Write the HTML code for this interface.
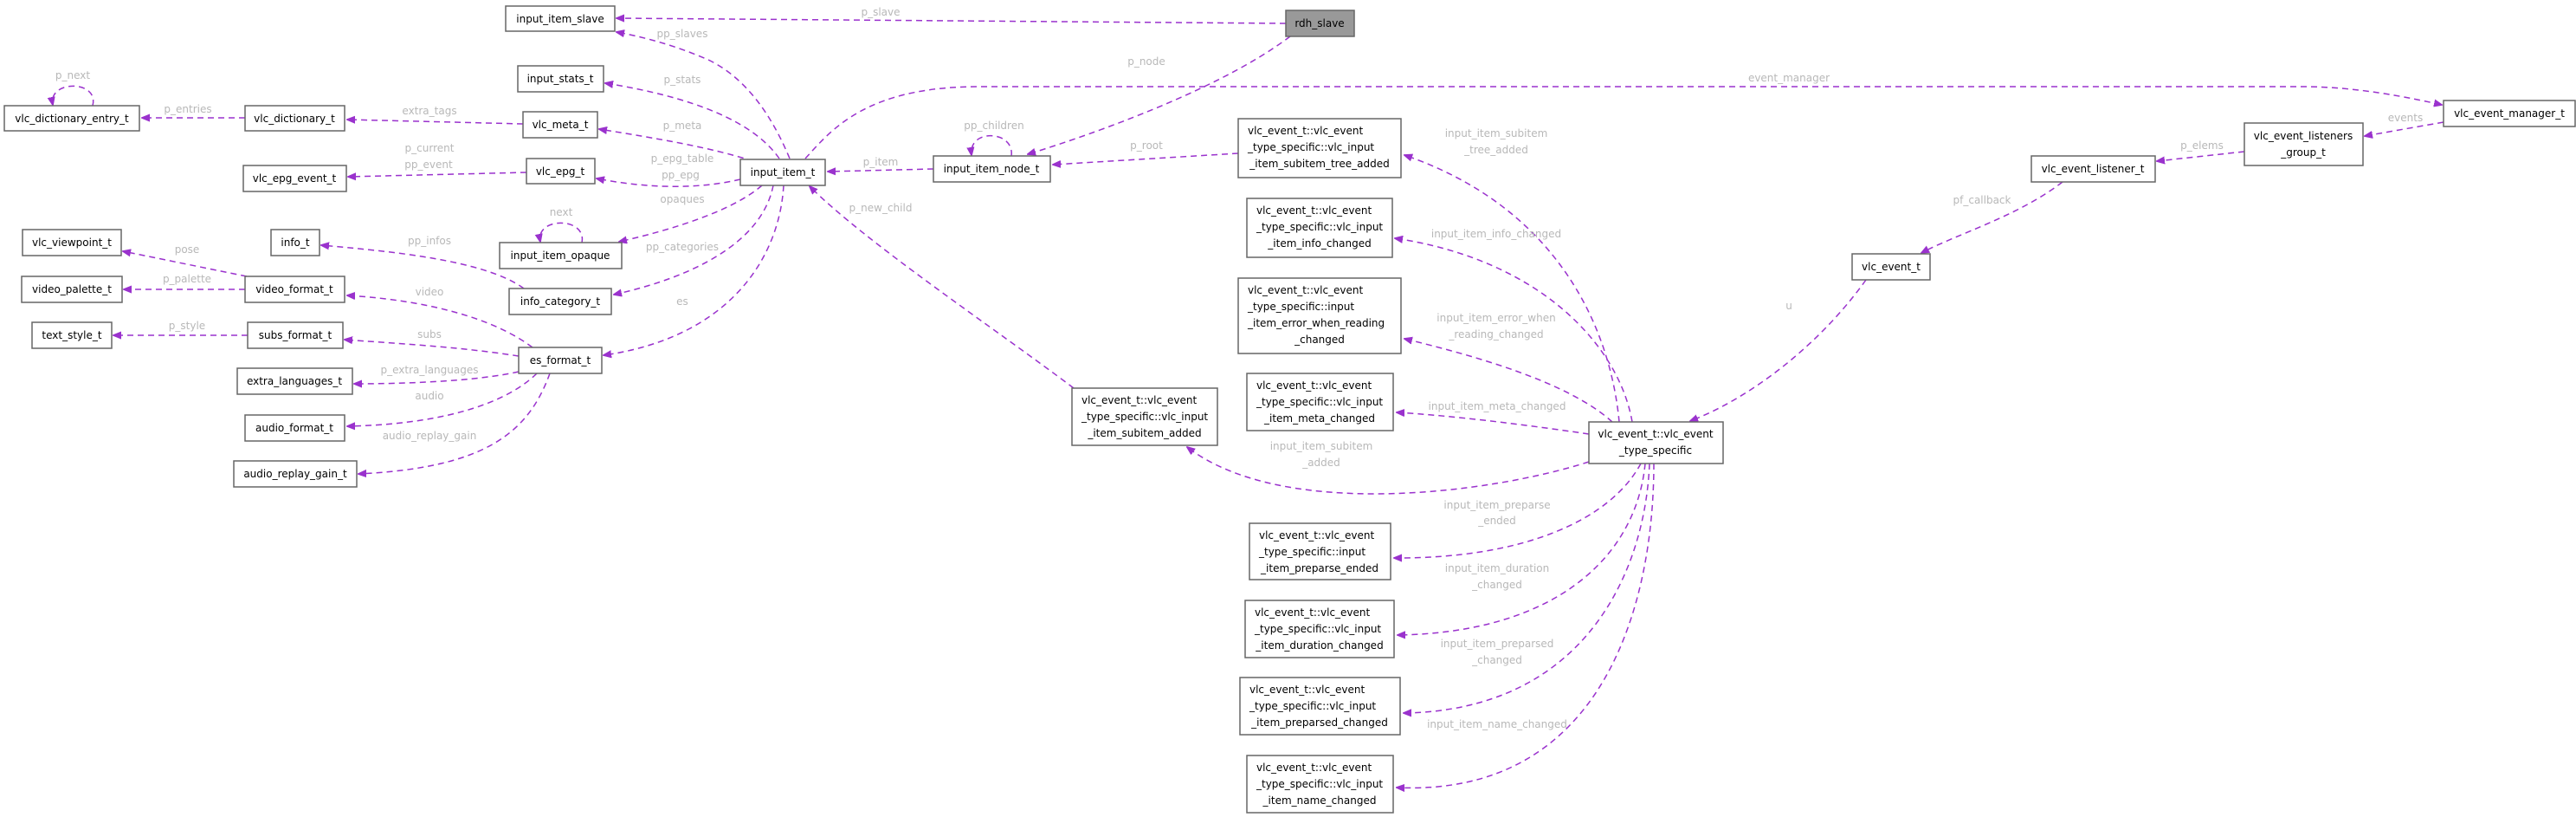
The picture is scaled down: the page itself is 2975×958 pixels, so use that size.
<!DOCTYPE html>
<html><head><meta charset="utf-8"><style>
html,body{margin:0;padding:0;background:#fff;}
svg{display:block}
.n{fill:#fff;stroke:#666;stroke-width:1.5}
.t{font-family:"DejaVu Sans","Liberation Sans",sans-serif;font-size:12px;fill:#000}
.l{font-family:"DejaVu Sans","Liberation Sans",sans-serif;font-size:12px;fill:#b8b8b8;text-anchor:middle}
.e{fill:none;stroke:#9a32cd;stroke-width:1.5;stroke-dasharray:7,5;marker-end:url(#a)}
</style></head><body>
<svg width="2975" height="958" viewBox="0 0 2975 958" xmlns="http://www.w3.org/2000/svg">
<defs><marker id="a" markerWidth="10" markerHeight="10" refX="9" refY="5" orient="auto" markerUnits="userSpaceOnUse" viewBox="0 0 10 10"><path d="M0,1 L10,5 L0,9 z" fill="#9a32cd" stroke="#9a32cd"/></marker></defs>

<!-- edges -->
<path class="e" d="M1485,27 L712,21"/>
<path class="e" d="M1490,42 C1400,110 1230,165 1187,178"/>
<path class="e" d="M912,183 C890,130 860,90 820,70 C780,52 740,42 712,37"/>
<path class="e" d="M900,183 C870,140 800,112 699,96"/>
<path class="e" d="M870,186 C820,170 760,160 692,149"/>
<path class="e" d="M855,207 C800,220 740,216 689,206"/>
<path class="e" d="M880,214 C850,240 790,262 715,279"/>
<path class="e" d="M893,214 C880,280 800,320 709,340"/>
<path class="e" d="M905,214 C900,300 840,390 697,410"/>
<path class="e" d="M1078,195 L956,198"/>
<path class="e" d="M1168,180 C1172,150 1118,148 1122,179"/>
<path class="e" d="M1430,177 L1216,190"/>
<path class="e" d="M930,183 C960,150 1000,100 1130,100 L2660,100 C2720,100 2780,112 2820,121"/>
<path class="e" d="M283,136 L164,136"/>
<path class="e" d="M107,122 C115,92 55,92 61,121"/>
<path class="e" d="M604,143 L401,138"/>
<path class="e" d="M608,199 L402,204"/>
<path class="e" d="M672,280 C678,250 618,250 624,279"/>
<path class="e" d="M605,333 C560,300 450,290 371,283"/>
<path class="e" d="M285,319 L142,290"/>
<path class="e" d="M283,334 L143,334"/>
<path class="e" d="M615,401 C560,360 470,345 401,341"/>
<path class="e" d="M286,387 L131,387"/>
<path class="e" d="M599,411 C530,400 450,396 398,392"/>
<path class="e" d="M599,429 C550,440 470,443 409,443"/>
<path class="e" d="M620,431 C580,470 500,490 401,492"/>
<path class="e" d="M635,431 C610,500 560,540 414,547"/>
<path class="e" d="M1240,448 C1150,380 1000,280 935,215"/>
<path class="e" d="M2822,141 L2731,157"/>
<path class="e" d="M2592,175 L2491,186"/>
<path class="e" d="M2382,210 C2330,250 2260,270 2219,292"/>
<path class="e" d="M2155,323 C2100,400 2020,460 1952,486"/>
<path class="e" d="M1870,487 C1860,380 1800,240 1622,179"/>
<path class="e" d="M1885,487 C1870,400 1780,300 1611,275"/>
<path class="e" d="M1862,487 C1810,440 1700,410 1622,391"/>
<path class="e" d="M1835,501 C1760,490 1680,480 1613,476"/>
<path class="e" d="M1835,533 C1720,570 1480,600 1371,516"/>
<path class="e" d="M1895,535 C1860,600 1760,645 1610,644"/>
<path class="e" d="M1900,535 C1890,640 1800,730 1614,733"/>
<path class="e" d="M1905,535 C1900,660 1830,820 1621,823"/>
<path class="e" d="M1910,535 C1910,700 1850,920 1613,909"/>

<!-- edge labels -->
<g class="l">
<text x="1017" y="18">p_slave</text>
<text x="1324" y="75">p_node</text>
<text x="2066" y="94">event_manager</text>
<text x="1148" y="149">pp_children</text>
<text x="1324" y="172">p_root</text>
<text x="1017" y="191">p_item</text>
<text x="1017" y="244">p_new_child</text>
<text x="1728" y="158">input_item_subitem</text>
<text x="1728" y="177">_tree_added</text>
<text x="1728" y="274">input_item_info_changed</text>
<text x="1728" y="371">input_item_error_when</text>
<text x="1728" y="390">_reading_changed</text>
<text x="1729" y="473">input_item_meta_changed</text>
<text x="1526" y="519">input_item_subitem</text>
<text x="1526" y="538">_added</text>
<text x="1729" y="587">input_item_preparse</text>
<text x="1729" y="605">_ended</text>
<text x="1729" y="660">input_item_duration</text>
<text x="1729" y="679">_changed</text>
<text x="1729" y="747">input_item_preparsed</text>
<text x="1729" y="766">_changed</text>
<text x="1729" y="840">input_item_name_changed</text>
<text x="2778" y="140">events</text>
<text x="2543" y="172">p_elems</text>
<text x="2289" y="235">pf_callback</text>
<text x="2066" y="357">u</text>
<text x="84" y="91">p_next</text>
<text x="217" y="130">p_entries</text>
<text x="496" y="132">extra_tags</text>
<text x="496" y="175">p_current</text>
<text x="495" y="194">pp_event</text>
<text x="788" y="43">pp_slaves</text>
<text x="788" y="96">p_stats</text>
<text x="788" y="149">p_meta</text>
<text x="788" y="187">p_epg_table</text>
<text x="786" y="206">pp_epg</text>
<text x="788" y="234">opaques</text>
<text x="648" y="249">next</text>
<text x="496" y="282">pp_infos</text>
<text x="216" y="292">pose</text>
<text x="788" y="289">pp_categories</text>
<text x="216" y="326">p_palette</text>
<text x="496" y="341">video</text>
<text x="788" y="352">es</text>
<text x="216" y="380">p_style</text>
<text x="496" y="390">subs</text>
<text x="496" y="431">p_extra_languages</text>
<text x="496" y="461">audio</text>
<text x="496" y="507">audio_replay_gain</text>
</g>

<!-- nodes -->
<g class="t" text-anchor="middle">
<rect class="n" x="584" y="7" width="126" height="29"/><text x="647" y="26">input_item_slave</text>
<rect x="1485" y="12" width="79" height="30" fill="#999" stroke="#666" stroke-width="1.5"/><text x="1524" y="31">rdh_slave</text>
<rect class="n" x="598" y="76" width="99" height="30"/><text x="647" y="95">input_stats_t</text>
<rect class="n" x="5" y="122" width="156" height="29"/><text x="83" y="141">vlc_dictionary_entry_t</text>
<rect class="n" x="283" y="122" width="115" height="29"/><text x="340" y="141">vlc_dictionary_t</text>
<rect class="n" x="604" y="129" width="86" height="30"/><text x="647" y="148">vlc_meta_t</text>
<rect class="n" x="281" y="191" width="119" height="30"/><text x="340" y="210">vlc_epg_event_t</text>
<rect class="n" x="608" y="183" width="79" height="29"/><text x="647" y="202">vlc_epg_t</text>
<rect class="n" x="855" y="184" width="98" height="30"/><text x="904" y="203">input_item_t</text>
<rect class="n" x="1078" y="180" width="135" height="30"/><text x="1145" y="199">input_item_node_t</text>
<rect class="n" x="26" y="265" width="114" height="30"/><text x="83" y="284">vlc_viewpoint_t</text>
<rect class="n" x="313" y="265" width="56" height="30"/><text x="341" y="284">info_t</text>
<rect class="n" x="577" y="280" width="141" height="30"/><text x="647" y="299">input_item_opaque</text>
<rect class="n" x="25" y="319" width="116" height="30"/><text x="83" y="338">video_palette_t</text>
<rect class="n" x="283" y="319" width="115" height="30"/><text x="340" y="338">video_format_t</text>
<rect class="n" x="588" y="333" width="118" height="30"/><text x="647" y="352">info_category_t</text>
<rect class="n" x="37" y="372" width="92" height="30"/><text x="83" y="391">text_style_t</text>
<rect class="n" x="286" y="372" width="110" height="30"/><text x="341" y="391">subs_format_t</text>
<rect class="n" x="599" y="401" width="96" height="30"/><text x="647" y="420">es_format_t</text>
<rect class="n" x="274" y="425" width="133" height="30"/><text x="340" y="444">extra_languages_t</text>
<rect class="n" x="283" y="479" width="115" height="30"/><text x="340" y="498">audio_format_t</text>
<rect class="n" x="270" y="532" width="142" height="30"/><text x="341" y="551">audio_replay_gain_t</text>
<rect class="n" x="2822" y="116" width="152" height="30"/><text x="2898" y="135">vlc_event_manager_t</text>
<rect class="n" x="2592" y="142" width="137" height="49"/><text x="2660" y="161">vlc_event_listeners</text><text x="2660" y="180">_group_t</text>
<rect class="n" x="2346" y="180" width="143" height="30"/><text x="2417" y="199">vlc_event_listener_t</text>
<rect class="n" x="2139" y="293" width="90" height="30"/><text x="2184" y="312">vlc_event_t</text>
<rect class="n" x="1835" y="487" width="155" height="48"/><text x="1912" y="505">vlc_event_t::vlc_event</text><text x="1912" y="524">_type_specific</text>
</g>
<g class="t">
<rect class="n" x="1430" y="137" width="188" height="68"/>
<text x="1441" y="155">vlc_event_t::vlc_event</text><text x="1441" y="174">_type_specific::vlc_input</text><text x="1524" y="193" text-anchor="middle">_item_subitem_tree_added</text>
<rect class="n" x="1440" y="229" width="168" height="68"/>
<text x="1451" y="247">vlc_event_t::vlc_event</text><text x="1451" y="266">_type_specific::vlc_input</text><text x="1524" y="285" text-anchor="middle">_item_info_changed</text>
<rect class="n" x="1430" y="321" width="188" height="87"/>
<text x="1441" y="339">vlc_event_t::vlc_event</text><text x="1441" y="358">_type_specific::input</text><text x="1441" y="377">_item_error_when_reading</text><text x="1524" y="396" text-anchor="middle">_changed</text>
<rect class="n" x="1440" y="431" width="169" height="66"/>
<text x="1451" y="449">vlc_event_t::vlc_event</text><text x="1451" y="468">_type_specific::vlc_input</text><text x="1524" y="487" text-anchor="middle">_item_meta_changed</text>
<rect class="n" x="1238" y="448" width="168" height="66"/>
<text x="1249" y="466">vlc_event_t::vlc_event</text><text x="1249" y="485">_type_specific::vlc_input</text><text x="1322" y="504" text-anchor="middle">_item_subitem_added</text>
<rect class="n" x="1443" y="604" width="163" height="65"/>
<text x="1454" y="622">vlc_event_t::vlc_event</text><text x="1454" y="641">_type_specific::input</text><text x="1524" y="660" text-anchor="middle">_item_preparse_ended</text>
<rect class="n" x="1438" y="693" width="172" height="66"/>
<text x="1449" y="711">vlc_event_t::vlc_event</text><text x="1449" y="730">_type_specific::vlc_input</text><text x="1524" y="749" text-anchor="middle">_item_duration_changed</text>
<rect class="n" x="1432" y="782" width="185" height="66"/>
<text x="1443" y="800">vlc_event_t::vlc_event</text><text x="1443" y="819">_type_specific::vlc_input</text><text x="1524" y="838" text-anchor="middle">_item_preparsed_changed</text>
<rect class="n" x="1440" y="872" width="169" height="66"/>
<text x="1451" y="890">vlc_event_t::vlc_event</text><text x="1451" y="909">_type_specific::vlc_input</text><text x="1524" y="928" text-anchor="middle">_item_name_changed</text>
</g>
</svg>
</body></html>
